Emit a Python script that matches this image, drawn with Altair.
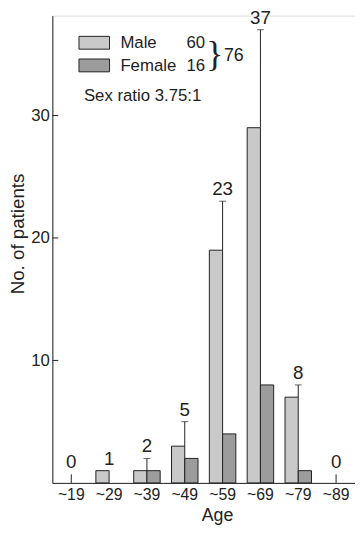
import altair as alt
import pandas as pd

ages = ["~19", "~29", "~39", "~49", "~59", "~69", "~79", "~89"]
male = [0, 1, 1, 3, 19, 29, 7, 0]
female = [0, 0, 1, 2, 4, 8, 1, 0]
total = [0, 1, 2, 5, 23, 37, 8, 0]
y_ticks = [10, 20, 30]

FONT = "Liberation Sans"

rows = []
for a, m, f in zip(ages, male, female):
    if m > 0:
        rows.append({"age": a, "sex": "Male", "n": m})
    if f > 0:
        rows.append({"age": a, "sex": "Female", "n": f})
bars_df = pd.DataFrame(rows)

grp = pd.DataFrame({"age": ages, "male": male, "total": total})
grp["stem_lo"] = grp["male"]
grp["stem_hi"] = grp["total"].where(grp["total"] > 0, 0.7)
grp["label_y"] = grp["stem_hi"]
stems_df = grp[(grp["total"] > grp["male"]) | (grp["total"] == 0)]
caps_df = grp[grp["total"] > grp["male"]]

xscale = alt.Scale(domain=ages, paddingInner=0.3, paddingOuter=0.15)
yscale = alt.Scale(domain=[0, 38.15], nice=False, zero=True)

x_enc = alt.X("age:N", scale=xscale, sort=ages,
              axis=alt.Axis(title="Age", labelAngle=0, ticks=False, labelPadding=4,
                            labelFontSize=16, titleFontSize=18, titleFontWeight="normal",
                            titleBaseline="alphabetic", titleY=38, titleX=167,
                            domainColor="#222",
                            labelColor="#222", titleColor="#222", labelFont=FONT, titleFont=FONT))

bars = alt.Chart(bars_df).mark_bar(stroke="#222", strokeWidth=1).encode(
    x=x_enc,
    xOffset=alt.XOffset("sex:N", scale=alt.Scale(domain=["Male", "Female"])),
    y=alt.Y("n:Q", scale=yscale,
            axis=alt.Axis(title="No. of patients", values=y_ticks, ticks=False, grid=False,
                          labelFontSize=17, titleFontSize=19, titleFontWeight="normal",
                          labelPadding=3, titleX=-25, titleY=221, titleBaseline="bottom",
                          domainColor="#222",
                          labelColor="#222", titleColor="#222", labelFont=FONT, titleFont=FONT)),
    color=alt.Color("sex:N", scale=alt.Scale(domain=["Male", "Female"], range=["#c9c9c9", "#9c9c9c"]),
                    legend=None),
)

stems = alt.Chart(stems_df).mark_rule(color="#222", strokeWidth=1).encode(
    x=alt.X("age:N", scale=xscale, sort=ages),
    y=alt.Y("stem_lo:Q", scale=yscale),
    y2="stem_hi:Q",
)

caps = alt.Chart(caps_df).mark_tick(color="#222", thickness=1, size=7).encode(
    x=alt.X("age:N", scale=xscale, sort=ages),
    y=alt.Y("total:Q", scale=yscale),
)

labels = alt.Chart(grp).mark_text(fontSize=19, font=FONT, baseline="bottom", dy=-2, color="#222").encode(
    x=alt.X("age:N", scale=xscale, sort=ages),
    y=alt.Y("label_y:Q", scale=yscale),
    text="total:Q",
)

yt_df = pd.DataFrame({"v": y_ticks})
yticks = alt.Chart(yt_df).mark_rule(color="#222", strokeWidth=1).encode(
    x=alt.value(0), x2=alt.value(6), y=alt.Y("v:Q", scale=yscale)
)

one = pd.DataFrame({"k": [0]})
sw_m = alt.Chart(one).mark_rect(fill="#c9c9c9", stroke="#222", strokeWidth=1).encode(
    x=alt.value(27), x2=alt.value(58), y=alt.value(21), y2=alt.value(34))
sw_f = alt.Chart(one).mark_rect(fill="#9c9c9c", stroke="#222", strokeWidth=1).encode(
    x=alt.value(27), x2=alt.value(58), y=alt.value(44), y2=alt.value(57))

def txt(s, x, y, size=17, align="left", font=FONT):
    return alt.Chart(one).mark_text(text=s, fontSize=size, font=font, align=align,
                                    baseline="middle", color="#222").encode(
        x=alt.value(x), y=alt.value(y))

legend = (sw_m + sw_f + txt("Male", 69, 28) + txt("Female", 69, 51)
          + txt("60", 155, 28, align="right") + txt("16", 155, 51, align="right")
          + txt("}", 156, 40, size=36, font="Liberation Serif") + txt("76", 174, 41, size=18)
          + txt("Sex ratio 3.75:1", 32, 82))

chart = (bars + stems + caps + labels + yticks + legend).properties(
    width=307, height=474,
    autosize=alt.AutoSizeParams(type="none"),
    padding={"left": 45, "top": 4, "right": 0, "bottom": 43},
).configure_view(stroke=None).configure(background="white")

chart.save("out.html", embed_options={"renderer": "svg", "actions": False})
